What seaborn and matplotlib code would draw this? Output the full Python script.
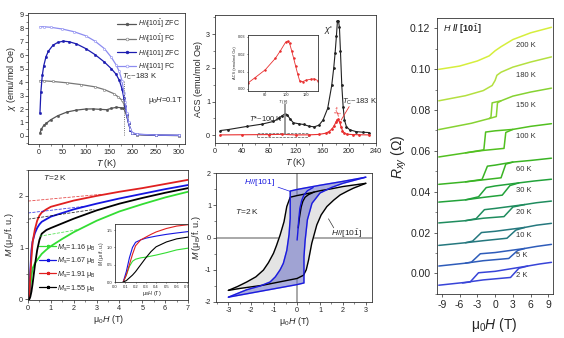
import numpy as np
import matplotlib
matplotlib.use("Agg")
import matplotlib.pyplot as plt
import seaborn as sns
from matplotlib.lines import Line2D
from matplotlib.patches import Rectangle
from matplotlib.ticker import MultipleLocator, FormatStrFormatter

sns.set_theme(style="ticks")
plt.rcParams['font.family'] = ['Liberation Sans', 'DejaVu Sans']
plt.rcParams['mathtext.fontset'] = 'custom'
plt.rcParams['mathtext.rm'] = 'Liberation Sans'
plt.rcParams['mathtext.it'] = 'Liberation Sans:italic'
plt.rcParams['mathtext.bf'] = 'Liberation Sans:bold'
plt.rcParams['axes.linewidth'] = 0.6
plt.rcParams['axes.edgecolor'] = '#333333'
plt.rcParams['axes.unicode_minus'] = False

# ---------------- panel a : chi(T) ----------------
a_T_zfc_ip = [2, 5, 10, 16, 25, 40, 60, 80, 100, 115, 130, 145, 155, 166, 175, 180, 184, 188, 192, 196, 200, 210, 250, 300]
a_chi_zfc_ip = [0.22, 0.5, 0.78, 0.95, 1.2, 1.5, 1.78, 1.92, 2.0, 2.01, 1.98, 1.95, 2.05, 2.13, 2.1, 2.05, 1.9, 1.5, 0.95, 0.45, 0.2, 0.1, 0.05, 0.03]
a_T_fc_ip = [2, 10, 30, 60, 90, 120, 140, 160, 170, 178, 182, 185, 188, 192, 196, 200, 210, 250, 300]
a_chi_fc_ip = [4.12, 4.1, 4.05, 3.95, 3.82, 3.65, 3.45, 3.15, 2.9, 2.65, 2.35, 1.9, 1.5, 0.95, 0.45, 0.2, 0.1, 0.05, 0.03]
a_T_zfc_101 = [2, 4, 7, 10, 15, 20, 30, 40, 52, 65, 80, 100, 120, 140, 155, 165, 172, 178, 182, 185, 188, 192, 196, 200, 210, 250, 300]
a_chi_zfc_101 = [1.7, 3.3, 4.5, 5.2, 5.9, 6.3, 6.75, 6.95, 7.05, 7.0, 6.85, 6.5, 6.05, 5.5, 5.0, 4.6, 4.15, 3.5, 2.8, 2.2, 1.6, 0.95, 0.45, 0.22, 0.12, 0.06, 0.04]
a_T_fc_101 = [2, 10, 25, 50, 75, 100, 120, 140, 155, 165, 172, 178, 182, 185, 188, 192, 196, 200, 210, 250, 300]
a_chi_fc_101 = [8.12, 8.12, 8.08, 7.95, 7.75, 7.45, 7.05, 6.5, 5.85, 5.3, 4.8, 4.1, 3.2, 2.5, 1.7, 1.0, 0.5, 0.25, 0.13, 0.07, 0.05]
a_labels = [r"$H$//[10$\bar{1}$] ZFC", r"$H$//[10$\bar{1}$] FC", r"$H$//[101] ZFC", r"$H$//[101] FC"]

# ---------------- panel b : AC susceptibility ----------------
b_T_re = [8, 20, 47, 70, 87, 95, 100, 104, 108, 112, 117, 125, 132, 140, 148, 155, 161, 168, 174, 177, 179, 181, 182.5, 184, 185.5, 187, 189, 191, 193, 196, 201, 210, 220, 230]
b_chi_re = [0.14, 0.17, 0.26, 0.33, 0.41, 0.5, 0.58, 0.63, 0.6, 0.48, 0.37, 0.34, 0.32, 0.27, 0.25, 0.3, 0.45, 0.8, 1.48, 2.0, 2.43, 2.95, 3.38, 3.4, 3.2, 2.5, 1.48, 0.85, 0.45, 0.25, 0.16, 0.11, 0.09, 0.08]
b_T_im = [8, 40, 80, 100, 120, 140, 155, 165, 170, 174, 177, 180, 182, 184, 186, 188, 190, 193, 197, 205, 215, 230]
b_chi_im = [0.01, 0.015, 0.02, 0.027, 0.01, 0.012, 0.025, 0.06, 0.11, 0.18, 0.26, 0.38, 0.46, 0.47, 0.38, 0.25, 0.14, 0.06, 0.03, 0.02, 0.015, 0.01]
b_T_inset = [63, 70, 80, 90, 95, 100, 102, 104, 106, 108, 110, 112, 114, 117, 120, 125, 128, 132]
b_chi_inset = [0.0034, 0.0065, 0.011, 0.0176, 0.022, 0.0268, 0.0275, 0.0262, 0.022, 0.0176, 0.013, 0.0085, 0.0045, 0.0042, 0.005, 0.0056, 0.0058, 0.0048]

# ---------------- panel c : M(H) at 2 K ----------------
c_H = [0, 0.05, 0.1, 0.15, 0.2, 0.3, 0.4, 0.5, 0.6, 0.8, 1.0, 1.5, 2, 3, 4, 5, 6, 7]
c_M_green = [0, 0.0, 0.2, 0.45, 0.6, 0.7, 0.76, 0.82, 0.88, 0.96, 1.03, 1.17, 1.3, 1.52, 1.7, 1.84, 1.97, 2.08]
c_M_blue = [0, 0.0, 0.55, 0.95, 1.12, 1.28, 1.38, 1.45, 1.5, 1.55, 1.6, 1.67, 1.74, 1.85, 1.95, 2.04, 2.13, 2.21]
c_M_red = [0, 0.0, 0.45, 0.8, 1.1, 1.35, 1.52, 1.62, 1.68, 1.74, 1.79, 1.85, 1.91, 2.0, 2.08, 2.15, 2.23, 2.31]
c_M_black = [0, 0.0, 0.05, 0.15, 0.3, 0.65, 0.95, 1.15, 1.27, 1.34, 1.38, 1.47, 1.56, 1.72, 1.85, 1.96, 2.06, 2.15]
c_Ms = [1.16, 1.67, 1.91, 1.55]
c_colors = ['#33dd33', '#1515e0', '#e02020', '#000000']
c_dash_H = [[0.5, 2.2], [0, 2.5], [0, 3.2], [0, 2.9]]
c_dash_M = [[1.22, 1.35], [1.67, 1.8], [1.9, 2.03], [1.55, 1.74]]
c_inH = [0.08, 0.11, 0.14, 0.17, 0.2, 0.25, 0.3, 0.35, 0.4, 0.5, 0.6, 0.71]
c_in_green = [0.0, 0.2, 0.45, 0.6, 0.66, 0.7, 0.72, 0.75, 0.78, 0.85, 0.93, 0.98]
c_in_blue = [0.0, 0.3, 0.7, 1.0, 1.15, 1.22, 1.27, 1.3, 1.33, 1.38, 1.42, 1.46]
c_in_red = [0.0, 0.2, 0.5, 0.8, 1.05, 1.22, 1.3, 1.38, 1.45, 1.55, 1.62, 1.66]
c_in_black = [0.0, 0.04, 0.12, 0.2, 0.3, 0.5, 0.7, 0.88, 1.02, 1.16, 1.25, 1.3]

# ---------------- panel d : hysteresis loops ----------------
d_blk_dn_H = [3, 2.5, 2, 1.5, 1.0, 0.5, 0, -0.3, -0.45, -0.57, -0.74, -0.9, -1.03, -1.25, -1.47, -1.8, -2.2, -2.6, -3]
d_blk_dn_M = [1.68, 1.63, 1.58, 1.51, 1.45, 1.37, 1.30, 1.25, 0.96, 0.49, 0.08, -0.25, -0.49, -0.78, -1.01, -1.22, -1.38, -1.52, -1.64]
d_blk_up_H = [-3, -2.5, -2, -1.5, -1, -0.5, 0, 0.28, 0.4, 0.5, 0.64, 0.86, 1.05, 1.3, 1.6, 1.88, 2.2, 2.46, 3]
d_blk_up_M = [-1.64, -1.58, -1.53, -1.48, -1.41, -1.34, -1.27, -1.17, -1.0, -0.7, -0.18, 0.39, 0.7, 0.96, 1.16, 1.32, 1.44, 1.53, 1.68]
d_blk_vir_H = [0.05, 0.1, 0.18, 0.25, 0.35, 0.5, 0.75]
d_blk_vir_M = [0.3, 0.6, 0.95, 1.12, 1.25, 1.33, 1.41]
d_blu_dn_H = [3, 2, 1, 0, -0.3, -0.3, -0.35, -0.45, -0.6, -0.74, -0.95, -1.18, -1.6, -2.2, -3]
d_blu_dn_M = [1.87, 1.74, 1.62, 1.49, 1.44, 0.6, 0.1, -0.4, -0.8, -1.0, -1.22, -1.38, -1.5, -1.62, -1.85]
d_blu_up_H = [-3, -2, -1, 0, 0.3, 0.3, 0.35, 0.45, 0.65, 1.0, 1.5, 2, 3]
d_blu_up_M = [-1.85, -1.72, -1.59, -1.46, -1.41, -0.6, -0.1, 0.55, 1.06, 1.38, 1.55, 1.68, 1.87]
d_blu_vir_H = [0.0, 0.03, 0.07, 0.12, 0.2, 0.3, 0.45, 0.7]
d_blu_vir_M = [-0.08, 0.15, 0.55, 0.9, 1.15, 1.32, 1.45, 1.55]

# ---------------- panel e : Hall resistance ----------------
e_temps = ['200 K', '180 K', '150 K', '100 K', '60 K', '30 K', '20 K', '10 K', '5 K', '2 K']
e_colors = ['#d6ee3c', '#b4e040', '#86d232', '#52c020', '#3ab424', '#22a23a', '#1f8c5e', '#25787e', '#2e5cba', '#3844d8']
e_up_H = [
    [-9.5, -6, -3, -1, 0, 1, 3, 6, 9.5],
    [-9.5, -5, -2, -0.5, 0, 0.3, 1, 3, 6, 9.5],
    [-9.5, -4, -1, 0.2, 0.4, 1, 3, 6, 9.5],
    [-9.5, -5, -2, 1.5, 1.8, 3, 6, 9.5],
    [-9.5, -5, -2, 1.0, 1.8, 3, 6, 9.5],
    [-9.5, -5, -2, 1.2, 2.5, 4, 6.5, 9.5],
    [-9.5, -5, -2, 1.5, 3, 5, 7, 9.5],
    [-9.5, -5, -2, 2, 3.5, 5, 7, 9.5],
    [-9.5, -5, -2, 2.3, 3.8, 5, 7, 9.5],
    [-9.5, -5, -2, 2.6, 4.0, 5.5, 7.5, 9.5],
]
e_up_R = [
    [0.0999, 0.1015, 0.1040, 0.1065, 0.1090, 0.1110, 0.1145, 0.1178, 0.1205],
    [0.0845, 0.0870, 0.0895, 0.0920, 0.0945, 0.0970, 0.0985, 0.1010, 0.1035, 0.1060],
    [0.0704, 0.0735, 0.0758, 0.0768, 0.0835, 0.0845, 0.0868, 0.0888, 0.0907],
    [0.0570, 0.0590, 0.0602, 0.0612, 0.0690, 0.0705, 0.0720, 0.0733],
    [0.0436, 0.0448, 0.0458, 0.0468, 0.0535, 0.0545, 0.0553, 0.0564],
    [0.0349, 0.0360, 0.0372, 0.0383, 0.0430, 0.0443, 0.0452, 0.0461],
    [0.0247, 0.0258, 0.0270, 0.0278, 0.0325, 0.0337, 0.0346, 0.0354],
    [0.0137, 0.0150, 0.0160, 0.0172, 0.0212, 0.0225, 0.0236, 0.0245],
    [0.0036, 0.0050, 0.0062, 0.0073, 0.0112, 0.0122, 0.0132, 0.0142],
    [-0.0058, -0.0044, -0.0032, -0.0020, 0.0025, 0.0036, 0.0046, 0.0054],
]
e_dn_H = [
    [],
    [],
    [1, -0.5, -0.7, -1],
    [3, 0, -1.6, -1.9, -5],
    [3, 0, -1.3, -2.2, -5],
    [4, 0, -1.5, -2.8, -5],
    [5, 0, -1.8, -3.2, -5],
    [5, 0, -2.3, -3.8, -5],
    [5, 0, -2.5, -4.0, -5],
    [5.5, 0, -2.8, -4.2, -5.5],
]
e_dn_R = [
    [],
    [],
    [0.0845, 0.0835, 0.0765, 0.0758],
    [0.0705, 0.0698, 0.0692, 0.0605, 0.0590],
    [0.0545, 0.0530, 0.0525, 0.0460, 0.0448],
    [0.0443, 0.0428, 0.0420, 0.0375, 0.0360],
    [0.0337, 0.0318, 0.0312, 0.0268, 0.0258],
    [0.0225, 0.0206, 0.0200, 0.0158, 0.0150],
    [0.0122, 0.0102, 0.0096, 0.0055, 0.0050],
    [0.0036, 0.0010, 0.0003, -0.0042, -0.0047],
]
e_label_R = [0.1118, 0.0971, 0.0824, 0.0669, 0.0509, 0.0404, 0.0296, 0.0187, 0.0089, -0.0012]


def sline(ax, x, y, **kw):
    sns.lineplot(x=np.asarray(x, float), y=np.asarray(y, float), ax=ax, sort=False,
                 estimator=None, errorbar=None, **kw)


W, H = 564, 338
fig = plt.figure(figsize=(W / 100, H / 100), dpi=100)
fig.patch.set_facecolor('white')


def add_ax(l, t, r, b):
    return fig.add_axes([l / W, 1 - b / H, (r - l) / W, (b - t) / H])


SMALL = 5.2
LAB = 6.5


def style(ax, fs=SMALL):
    ax.tick_params(axis='both', which='major', labelsize=fs, length=2, width=0.5, pad=1.5, direction='out')
    ax.tick_params(axis='both', which='minor', length=1.2, width=0.4, direction='out')
    for s in ax.spines.values():
        s.set_visible(True)
        s.set_linewidth(0.6)


# ---- panel a
ax = add_ax(28.3, 13.3, 185, 144)
styles_a = [
    (a_T_zfc_ip, a_chi_zfc_ip, '#555555', '#555555'),
    (a_T_fc_ip, a_chi_fc_ip, '#777777', 'white'),
    (a_T_zfc_101, a_chi_zfc_101, '#1c1cb0', '#1c1cb0'),
    (a_T_fc_101, a_chi_fc_101, '#8c8cf0', 'white'),
]
handles = []
for (t, c, col, mfc), lab in zip(styles_a, a_labels):
    sline(ax, t, c, color=col, linewidth=0.9, marker='o', markersize=1.6,
          markerfacecolor=mfc, markeredgecolor=col, markeredgewidth=0.4)
    handles.append(Line2D([], [], color=col, lw=0.9, marker='o', ms=2, mfc=mfc, mec=col, mew=0.4))
ax.legend(handles, a_labels, loc='upper right', fontsize=5, frameon=False,
          handlelength=2.6, handletextpad=0.4, labelspacing=0.35, borderaxespad=0.3)
ax.plot([183, 183], [0.05, 4.1], ls=':', color='#444444', lw=0.6)
ax.text(178, 4.4, r"$T_{\rm C}$~183 K", fontsize=5.5, va='center')
ax.text(234, 2.66, r"μ$_0$$H$=0.1T", fontsize=5.5, va='center')
ax.set_xlim(-23, 313)
ax.set_ylim(-0.6, 9.12)
ax.xaxis.set_major_locator(MultipleLocator(50))
ax.xaxis.set_minor_locator(MultipleLocator(25))
ax.yaxis.set_major_locator(MultipleLocator(1))
ax.yaxis.set_minor_locator(MultipleLocator(0.5))
style(ax)
ax.set_xlabel(r"$T$ (K)", fontsize=LAB, labelpad=1)
ax.set_ylabel(r"$\chi$ (emu/mol Oe)", fontsize=LAB, labelpad=1)

# ---- panel b
ax = add_ax(215, 15, 376, 143)
sline(ax, b_T_re, b_chi_re, color='#222222', linewidth=0.8, marker='o', markersize=1.2,
      markeredgecolor='#222222', markerfacecolor='#222222')
sline(ax, b_T_im, b_chi_im, color='#e83030', linewidth=0.8, marker='o', markersize=1.2,
      markeredgecolor='#e83030', markerfacecolor='#e83030')
ax.plot([104, 104], [0.03, 0.93], color='#888888', lw=1.2)
ax.add_patch(Rectangle((62, -0.06), 76, 0.13, fill=False, ls='--', lw=0.5, ec='#555555'))
ax.text(101, 0.5, r"$T$*~100 K", fontsize=5.5, va='center', ha='right')
ax.text(163, 3.12, r"$\chi$'", fontsize=6.5, va='center')
ax.text(174, 0.72, r"$\chi$''", fontsize=6, va='center', color='#e83030', rotation=60)
ax.plot([188, 200], [0.45, 0.85], color='#e83030', lw=0.6)
ax.text(189, 0.98, r"$T_{\rm C}$~183 K", fontsize=5.5, va='center')
ax.set_xlim(0, 240)
ax.set_ylim(-0.23, 3.57)
ax.xaxis.set_major_locator(MultipleLocator(40))
ax.xaxis.set_minor_locator(MultipleLocator(20))
ax.yaxis.set_major_locator(MultipleLocator(1))
ax.yaxis.set_minor_locator(MultipleLocator(0.5))
style(ax)
ax.set_xlabel(r"$T$ (K)", fontsize=LAB, labelpad=1)
ax.set_ylabel("ACS (emu/mol Oe)", fontsize=LAB, labelpad=2)

axi = add_ax(248, 35, 318, 91)
sline(axi, b_T_inset, b_chi_inset, color='#e83030', linewidth=0.6, marker='o', markersize=1.0,
      markeredgecolor='#e83030', markerfacecolor='#e83030')
axi.set_xlim(63, 132)
axi.set_ylim(-0.0012, 0.031)
axi.xaxis.set_major_locator(MultipleLocator(20))
axi.yaxis.set_major_locator(MultipleLocator(0.01))
axi.yaxis.set_major_formatter(FormatStrFormatter('%.2f'))
style(axi, fs=2.8)
axi.tick_params(length=1, pad=0.8)
axi.set_xlabel(r"$T$ (K)", fontsize=3, labelpad=0.5)
axi.set_ylabel("ACS (emu/mol Oe)", fontsize=2.8, labelpad=0.5)

# ---- panel c
ax = add_ax(28, 170, 188, 300)
series_c = [c_M_green, c_M_blue, c_M_red, c_M_black]
for m, col in zip(series_c, c_colors):
    sline(ax, c_H, m, color=col, linewidth=1.3)
for hh, mm, col in zip(c_dash_H, c_dash_M, c_colors):
    sline(ax, hh, mm, color=col, linewidth=0.6, linestyle='--', alpha=0.8)
hc = [Line2D([], [], color=col, lw=0.9, marker='*', ms=2.2) for col in c_colors]
ax.legend(hc, [r"$M_{\rm s}$=%.2f μ$_{\rm B}$" % v for v in c_Ms], loc='lower left',
          bbox_to_anchor=(0.03, 0.0), fontsize=5.2, frameon=False, handlelength=2.3,
          handletextpad=0.2, labelspacing=0.35)
ax.text(0.65, 2.35, r"$T$=2 K", fontsize=6, va='center')
ax.set_xlim(0, 7)
ax.set_ylim(-0.01, 2.5)
ax.xaxis.set_major_locator(MultipleLocator(1))
ax.xaxis.set_minor_locator(MultipleLocator(0.5))
ax.yaxis.set_major_locator(MultipleLocator(1))
ax.yaxis.set_minor_locator(MultipleLocator(0.5))
style(ax)
ax.set_xlabel(r"μ$_0$$H$ (T)", fontsize=LAB, labelpad=1)
ax.set_ylabel(r"$M$ (μ$_{\rm B}$/f. u.)", fontsize=LAB, labelpad=2)

axi = add_ax(115, 224, 188, 282)
for m, col in zip([c_in_green, c_in_blue, c_in_red, c_in_black], c_colors):
    sline(axi, c_inH, m, color=col, linewidth=0.8)
axi.set_xlim(0, 0.71)
axi.set_ylim(0, 1.68)
axi.xaxis.set_major_locator(MultipleLocator(0.1))
axi.yaxis.set_major_locator(MultipleLocator(0.5))
axi.xaxis.set_major_formatter(FormatStrFormatter('%.1f'))
axi.yaxis.set_major_formatter(FormatStrFormatter('%.1f'))
style(axi, fs=3)
axi.tick_params(length=1, pad=0.8)
axi.set_xlabel(r"μ$_0$$H$ (T)", fontsize=4, labelpad=0.5)
axi.set_ylabel(r"$M$ (μ$_{\rm B}$/f. u.)", fontsize=3.5, labelpad=0.5)

# ---- panel d
ax = add_ax(216, 173, 372, 302)
ax.axhline(0, color='#999999', lw=1.2, zorder=0)
ax.axvline(0, color='#999999', lw=1.2, zorder=0)
ax.fill(np.r_[d_blk_dn_H, d_blk_up_H], np.r_[d_blk_dn_M, d_blk_up_M], color='#e4e4e4', zorder=1)
ax.fill(np.r_[d_blu_dn_H, d_blu_up_H], np.r_[d_blu_dn_M, d_blu_up_M], color='#7479c8', alpha=0.6, zorder=2)
for hh, mm in [(d_blk_dn_H, d_blk_dn_M), (d_blk_up_H, d_blk_up_M), (d_blk_vir_H, d_blk_vir_M)]:
    sline(ax, hh, mm, color='black', linewidth=1.0, zorder=3)
for hh, mm in [(d_blu_dn_H, d_blu_dn_M), (d_blu_up_H, d_blu_up_M), (d_blu_vir_H, d_blu_vir_M)]:
    sline(ax, hh, mm, color='#1a1ae0', linewidth=1.0, zorder=4)
ax.text(-2.3, 1.7, r"$H$//[101]", fontsize=6, color='#1a1ae0', va='center')
ax.plot([-0.83, -0.3], [1.56, 1.43], color='#1a1ae0', lw=0.5)
ax.text(-2.7, 0.8, r"$T$=2 K", fontsize=6, va='center')
ax.text(1.5, 0.13, r"$H$//[10$\bar{1}$]", fontsize=6, va='center')
ax.plot([1.37, 1.6], [0.58, 0.3], color='#333333', lw=0.5)
ax.set_xlim(-3.54, 3.27)
ax.set_ylim(-2, 2)
ax.xaxis.set_major_locator(MultipleLocator(1))
ax.xaxis.set_minor_locator(MultipleLocator(0.5))
ax.yaxis.set_major_locator(MultipleLocator(1))
ax.yaxis.set_minor_locator(MultipleLocator(0.5))
style(ax)
ax.set_xlabel(r"μ$_0$$H$ (T)", fontsize=LAB, labelpad=1)
ax.set_ylabel(r"$M$ (μ$_{\rm B}$/f. u.)", fontsize=LAB, labelpad=1)

# ---- panel e
ax = add_ax(436.7, 18.3, 552.7, 294)
for i, col in enumerate(e_colors):
    sline(ax, e_up_H[i], e_up_R[i], color=col, linewidth=1.1)
    if e_dn_H[i]:
        sline(ax, e_dn_H[i], e_dn_R[i], color=col, linewidth=1.1)
    ax.text(3.5, e_label_R[i], e_temps[i], fontsize=5.5, va='center', color='#333333')
ax.text(-8.8, 0.1195, r"$H$ // [10$\bar{1}$]", fontsize=6.5, va='center', fontweight='bold')
ax.set_xlim(-9.85, 9.71)
ax.set_ylim(-0.0101, 0.1249)
ax.xaxis.set_major_locator(MultipleLocator(3))
ax.yaxis.set_major_locator(MultipleLocator(0.02))
ax.yaxis.set_minor_locator(MultipleLocator(0.01))
ax.yaxis.set_major_formatter(FormatStrFormatter('%.2f'))
style(ax, fs=7.5)
ax.tick_params(axis='both', which='major', length=2.5, pad=2)
ax.set_xlabel(r"μ$_0$$H$ (T)", fontsize=10, labelpad=4)
ax.set_ylabel(r"$R_{xy}$ (Ω)", fontsize=10, labelpad=0.5)

fig.savefig("out.png", dpi=100, facecolor='white')
